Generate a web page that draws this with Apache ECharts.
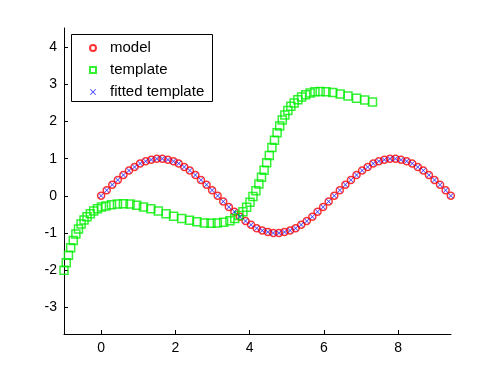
<!DOCTYPE html>
<html>
<head>
<meta charset="utf-8">
<script src="https://cdn.jsdelivr.net/npm/echarts@6/dist/echarts.min.js"></script>
<style>
  html, body { margin: 0; padding: 0; background: #fff; }
  #chart { width: 500px; height: 376px; }
</style>
</head>
<body>
<div id="chart"></div>
<script>
// values
const modelX = [0, 0.15, 0.3, 0.45, 0.6, 0.75, 0.9, 1.05, 1.2, 1.35, 1.5, 1.65, 1.8, 1.95, 2.09, 2.24,
  2.39, 2.54, 2.69, 2.84, 2.99, 3.14, 3.29, 3.44, 3.59, 3.74, 3.89, 4.04, 4.19, 4.34, 4.49, 4.64,
  4.79, 4.94, 5.09, 5.24, 5.39, 5.54, 5.69, 5.83, 5.98, 6.13, 6.28, 6.43, 6.58, 6.73, 6.88, 7.03,
  7.18, 7.33, 7.48, 7.63, 7.78, 7.93, 8.08, 8.23, 8.38, 8.53, 8.68, 8.83, 8.98, 9.13, 9.28, 9.42];
const modelY = [0, 0.15, 0.3, 0.43, 0.56, 0.68, 0.78, 0.87, 0.93, 0.97, 1, 1, 0.97, 0.93, 0.87, 0.78,
  0.68, 0.56, 0.43, 0.3, 0.15, 0, -0.15, -0.3, -0.43, -0.56, -0.68, -0.78, -0.87, -0.93, -0.97, -1,
  -1, -0.97, -0.93, -0.87, -0.78, -0.68, -0.56, -0.43, -0.3, -0.15, 0, 0.15, 0.3, 0.43, 0.56, 0.68,
  0.78, 0.87, 0.93, 0.97, 1, 1, 0.97, 0.93, 0.87, 0.78, 0.68, 0.56, 0.43, 0.3, 0.15, 0];

// fitted template lands on the model
const fittedX = modelX.slice();
const fittedY = modelY.slice();

const templateX = [-1.0, -0.94, -0.88, -0.82, -0.75, -0.68, -0.61, -0.54, -0.46, -0.38, -0.29, -0.2,
  -0.1, 0.01, 0.13, 0.28, 0.44, 0.6, 0.78, 0.96, 1.14, 1.34, 1.54, 1.75, 1.95, 2.17, 2.38, 2.58,
  2.78, 2.96, 3.13, 3.3, 3.47, 3.6, 3.71, 3.82, 3.92, 4.01, 4.09, 4.17, 4.25, 4.32, 4.39, 4.46,
  4.53, 4.6, 4.67, 4.74, 4.81, 4.88, 4.95, 5.03, 5.11, 5.2, 5.3, 5.4, 5.51, 5.63, 5.76, 5.9,
  6.06, 6.24, 6.44, 6.65, 6.88, 7.1, 7.31];
const templateY = [-2.0, -1.8, -1.6, -1.4, -1.2, -1.03, -0.89, -0.76, -0.65, -0.56, -0.48, -0.41,
  -0.35, -0.3, -0.27, -0.24, -0.22, -0.21, -0.22, -0.25, -0.3, -0.35, -0.41, -0.48, -0.55, -0.61,
  -0.66, -0.7, -0.73, -0.74, -0.73, -0.71, -0.67, -0.61, -0.53, -0.43, -0.31, -0.17, -0.02, 0.14,
  0.32, 0.5, 0.69, 0.89, 1.09, 1.3, 1.5, 1.7, 1.88, 2.04, 2.18, 2.3, 2.41, 2.5, 2.59, 2.66, 2.72,
  2.77, 2.8, 2.81, 2.8, 2.78, 2.74, 2.69, 2.63, 2.58, 2.53];

const xTicks = [0, 2, 4, 6, 8];
const yTicks = [-3, -2, -1, 0, 1, 2, 3, 4];

const zip = (xs, ys) => xs.map((x, i) => [x, ys[i]]);
const crossPath = 'path://M1,0L5,4L9,0L10,1L6,5L10,9L9,10L5,6L1,10L0,9L4,5L0,1Z';
const font = '"Liberation Sans", Arial, Helvetica, sans-serif';

const chart = echarts.init(document.getElementById('chart'));

const axisCommon = {
  axisLine: { show: true, onZero: false, lineStyle: { color: '#000', width: 1 } },
  axisTick: { show: true, inside: true, length: 4, lineStyle: { color: '#000' } },
  axisLabel: { color: '#000', fontSize: 14, fontFamily: font, margin: 7 },
  splitLine: { show: false }
};

chart.setOption({
  animation: false,
  backgroundColor: '#fff',
  grid: { left: 64, top: 28, right: 49, bottom: 42 },
  xAxis: {
    type: 'value', min: -1, max: 9.4248,
    ...axisCommon,
    axisTick: { ...axisCommon.axisTick, customValues: xTicks },
    axisLabel: { ...axisCommon.axisLabel, customValues: xTicks }
  },
  yAxis: {
    type: 'value', min: -3.72, max: 4.52,
    ...axisCommon,
    axisTick: { ...axisCommon.axisTick, customValues: yTicks },
    axisLabel: { ...axisCommon.axisLabel, customValues: yTicks }
  },
  graphic: [{
    type: 'rect', z: 10,
    shape: { x: 71.5, y: 34.5, width: 141, height: 67 },
    style: { fill: '#fff', stroke: '#000', lineWidth: 1 }
  }],
  legend: {
    z: 20,
    left: 71, top: 35,
    orient: 'vertical',
    padding: [5, 8, 5, 18],
    itemWidth: 6, itemHeight: 6,
    itemGap: 6,
    textStyle: {
      color: '#000', fontSize: 15, fontFamily: font, lineHeight: 16,
      padding: [0, 0, 0, 9], width: 101, overflow: 'truncate', ellipsis: ''
    },
    data: ['model', 'template', 'fitted template']
  },
  series: [
    {
      name: 'model', type: 'scatter',
      data: zip(modelX, modelY),
      symbol: 'circle', symbolSize: 7,
      itemStyle: { color: 'rgba(255,255,255,0)', borderColor: '#ff0000', borderWidth: 1.5 }
    },
    {
      name: 'template', type: 'scatter',
      data: zip(templateX, templateY),
      symbol: 'rect', symbolSize: 8,
      itemStyle: { color: 'rgba(255,255,255,0)', borderColor: '#00ee00', borderWidth: 1.5 }
    },
    {
      name: 'fitted template', type: 'scatter',
      data: zip(fittedX, fittedY),
      symbol: crossPath, symbolSize: 5,
      itemStyle: { color: '#0000ff' }
    }
  ]
});
</script>
</body>
</html>
